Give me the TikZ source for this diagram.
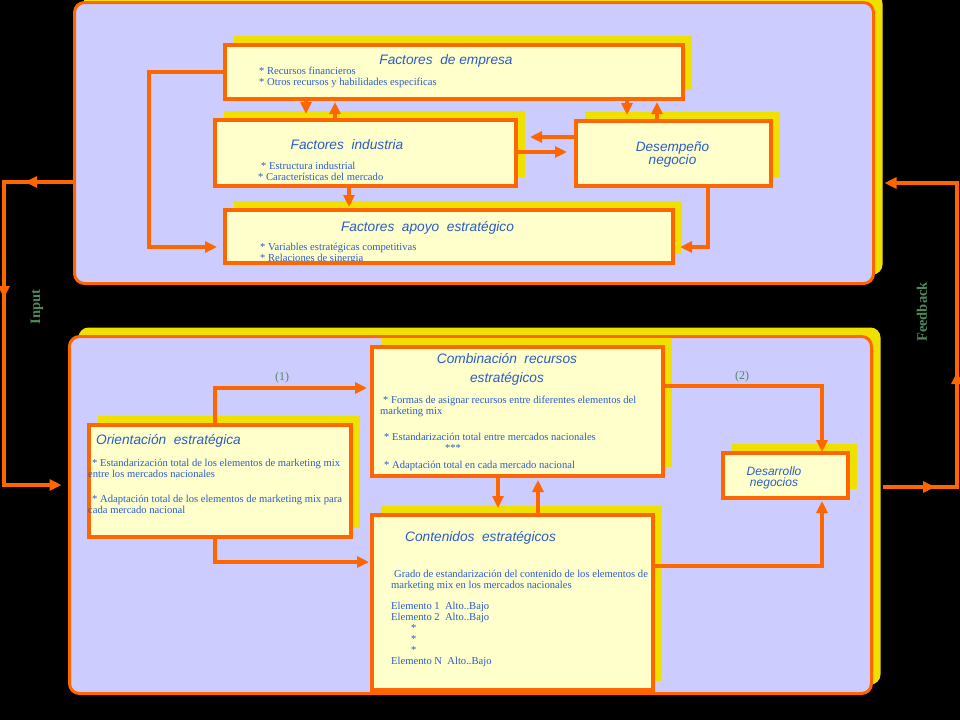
\documentclass[tikz,border=0pt]{standalone}
\usepackage{fontspec}
\setmainfont{Liberation Serif}
\newfontfamily\titlefont{Liberation Sans}
\usetikzlibrary{arrows.meta}
\usetikzlibrary{calc,shadows}
\usetikzlibrary{decorations.markings}
\definecolor{panelfill}{HTML}{CCCCFF}
\definecolor{lineorange}{HTML}{FF6600}
\definecolor{shadowyellow}{HTML}{F0E000}
\definecolor{boxfill}{HTML}{FFFFCC}
\definecolor{textblue}{HTML}{2A5CC8}
\definecolor{labelgreen}{HTML}{4E8A5E}
\tikzset{
    yellowshadow/.style={drop shadow={shadow xshift=9pt,shadow yshift=9pt,fill=shadowyellow,opacity=1}},
    panel/.style={draw=lineorange,line width=3pt,fill=panelfill,rounded corners=10pt,inner sep=0pt,outer sep=0pt,yellowshadow},
    box/.style={draw=lineorange,line width=4pt,fill=boxfill,inner sep=0pt,outer sep=0pt,yellowshadow},
    conn/.style={draw=lineorange,color=lineorange,line width=4pt,-{Triangle[length=12pt,width=11pt]}},
    midarrow/.style={postaction={decorate,decoration={markings,
        mark=at position #1 with {\arrow{Triangle[length=12pt,width=11pt]}}}}},
    boxtitle/.style={font=\titlefont\itshape\fontsize{13.7}{19}\selectfont,text=textblue,inner sep=0pt,align=center},
    boxtext/.style={font=\fontsize{10.6}{11}\selectfont,text=textblue,inner sep=0pt,align=left,anchor=west},
    sidelabel/.style={font=\bfseries\fontsize{14.5}{16}\selectfont,text=labelgreen,rotate=90,inner sep=0pt},
    numlabel/.style={font=\fontsize{12}{14}\selectfont,text=labelgreen,inner sep=0pt},
}
\begin{document}
\begin{tikzpicture}[x=1pt,y=-1pt]
\fill[black] (0,0) rectangle (960,720);
\useasboundingbox (0,0) rectangle (960,720);
% panels
\node[panel,minimum width=799pt,minimum height=281pt] (upper) at (474,143) {};
\node[panel,minimum width=802pt,minimum height=357pt] (lower) at (470.5,515) {};
% upper boxes
\node[box,minimum width=458pt,minimum height=54pt] (fe) at (454,72) {};
\node[box,minimum width=301pt,minimum height=66pt] (fi) at (365.5,153) {};
\node[box,minimum width=195pt,minimum height=65pt] (des) at (673.5,153.5) {};
\node[box,minimum width=448pt,minimum height=53pt] (fae) at (449,236.5) {};
% lower boxes
\node[box,minimum width=262pt,minimum height=112pt] (ori) at (220,481) {};
\node[box,minimum width=291pt,minimum height=129pt] (comb) at (517.5,411.5) {};
\node[box,minimum width=281pt,minimum height=175pt] (cont) at (512.5,602.5) {};
\node[box,minimum width=125pt,minimum height=45pt] (desa) at (785.5,475.5) {};
% texts
\node[boxtitle] (fetitle) at (446,61) {Factores\ \ de empresa};
\node[boxtext] (fetext) at (259,77) {* Recursos financieros\\* Otros recursos y habilidades especificas};
\node[boxtitle] (fititle) at (347,145) {Factores\ \ industria};
\node[boxtext] (fitext) at (258,171) {\hspace{3pt}* Estructura industrial\\* Características del mercado};
\node[boxtitle,font=\titlefont\itshape\fontsize{13.6}{13}\selectfont] (destitle) at (672.5,155) {Desempeño\\negocio};
\node[boxtitle] (faetitle) at (427.5,228) {Factores\ \ apoyo\ \ estratégico};
\node[boxtext] (faetext) at (260,253.5) {* Variables estratégicas competitivas\\* Relaciones de sinergia};
\draw[draw=lineorange,line width=4pt] (fae.south west) -- (fae.south east);
\node[boxtitle,anchor=west] (orititle) at (96,441) {Orientación\ \ estratégica};
\node[boxtext] (oritext) at (88,468.5) {\hspace{4pt}* Estandarización total de los elementos de marketing mix\\entre los mercados nacionales};
\node[boxtext] (oritextb) at (88,504.5) {\hspace{4pt}* Adaptación total de los elementos de marketing mix para\\cada mercado nacional};
\node[boxtitle] (combtitle) at (507,369.5) {Combinación\ \ recursos\\estratégicos};
\node[boxtext] (combtext) at (380,406) {\hspace{3pt}* Formas de asignar recursos entre diferentes elementos del\\marketing mix};
\node[boxtext] (combtextb) at (384,437) {* Estandarización total entre mercados nacionales};
\node[boxtext,anchor=center] (combstars) at (453,448) {***};
\node[boxtext] (combtextc) at (384,466) {* Adaptación total en cada mercado nacional};
\node[boxtitle,anchor=west] (conttitle) at (405,538) {Contenidos\ \ estratégicos};
\node[boxtext] (conttext) at (391,580) {\hspace{3pt}Grado de estandarización del contenido de los elementos de\\marketing mix en los mercados nacionales};
\node[boxtext] (contlist) at (391,634.5) {Elemento 1\ \ Alto..Bajo\\Elemento 2\ \ Alto..Bajo\\\hspace{20pt}*\\\hspace{20pt}*\\\hspace{20pt}*\\Elemento N\ \ Alto..Bajo};
\node[boxtitle,font=\titlefont\itshape\fontsize{12}{11}\selectfont] (desatitle) at (774,477.5) {Desarrollo\\negocios};
% labels
\node[sidelabel] (inputlabel) at (37,307) {Input};
\node[sidelabel] (feedlabel) at (922,312) {Feedback};
\node[numlabel] (one) at (282,378) {(1)};
\node[numlabel] (two) at (742,377) {(2)};
% upper connectors
\draw[conn] (fe.west) -- ++(-76,0) |- ($(fae.west)+(-8,10.5)$);
\draw[conn] ($(fe.south west)+(81,0)$) -- ($(fi.north west)+(91,-6)$);
\draw[conn] ($(fi.north west)+(120,0)$) -- ($(fe.south west)+(110,3)$);
\draw[conn] ($(fe.south west)+(402,0)$) -- ($(des.north west)+(51,-6)$);
\draw[conn] ($(des.north west)+(81,0)$) -- ($(fe.south east)+(-26,3)$);
\draw[conn] ($(des.north west)+(0,16)$) -- ($(fi.north east)+(14,17)$);
\draw[conn] ($(fi.north east)+(0,32)$) -- ($(des.north west)+(-9,31)$);
\draw[conn] ($(fi.south west)+(134,0)$) -- ($(fae.north west)+(124,-3)$);
\draw[conn] ($(des.south west)+(132,0)$) |- ($(fae.east)+(7,10.5)$);
% lower connectors
\draw[conn] ($(ori.north west)+(126,0)$) |- ($(comb.north west)+(-5,41)$);
\draw[conn] ($(ori.south west)+(126,0)$) |- ($(cont.north west)+(-3,47)$);
\draw[conn] ($(comb.north east)+(0,39)$) -| ($(desa.north west)+(99,-1)$);
\draw[conn] ($(cont.north east)+(0,51)$) -| ($(desa.south west)+(99,3)$);
\draw[conn] ($(comb.south west)+(126,0)$) -- ($(cont.north west)+(126,-7)$);
\draw[conn] ($(cont.north west)+(166,0)$) -- ($(comb.south west)+(166,4)$);
% input and feedback
\draw[conn,midarrow=49.5pt,midarrow=186.5pt] ($(upper.north west)+(0,179.5)$) -- ++(-70.5,0) |- ($(lower.north west)+(-8,148.5)$);
\draw[conn,midarrow=52pt,midarrow=189pt] ($(lower.north east)+(11.5,150.5)$) -- ++(74,0) |- ($(upper.north east)+(11,180.5)$);
\end{tikzpicture}
\end{document}
